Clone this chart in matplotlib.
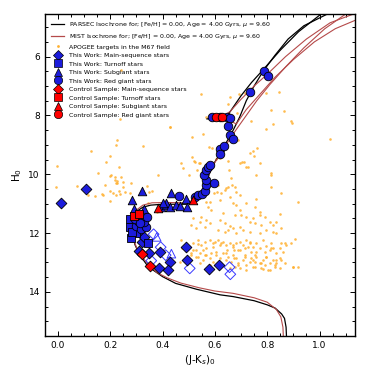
import matplotlib
matplotlib.use("Agg")
import matplotlib.pyplot as plt
from matplotlib.lines import Line2D
from matplotlib.ticker import MultipleLocator

# ---------------- Isochrones ----------------
parsec_x = [0.874, 0.872, 0.866, 0.855, 0.83, 0.80, 0.75, 0.67, 0.62, 0.53, 0.45, 0.40, 0.345,
            0.313, 0.295, 0.287, 0.283, 0.283, 0.29, 0.303, 0.325, 0.355, 0.40, 0.45, 0.49, 0.515,
            0.54, 0.558, 0.568, 0.578, 0.595, 0.62, 0.645, 0.67, 0.695, 0.72, 0.75, 0.784, 0.83,
            0.88, 0.94, 1.03]
parsec_y = [15.6, 15.2, 14.9, 14.75, 14.55, 14.44, 14.3, 14.16, 14.1, 13.91, 13.71, 13.48, 13.14,
            12.74, 12.4, 12.12, 11.9, 11.65, 11.42, 11.25, 11.12, 11.05, 11.02, 11.02, 11.02, 10.93,
            10.75, 10.52, 10.28, 10.0, 9.65, 9.3, 8.9, 8.5, 8.05, 7.5, 7.0, 6.5, 5.95,
            5.4, 4.95, 4.55]
parsec_agb_x = [0.57, 0.60, 0.644, 0.67, 0.70, 0.74, 0.784, 0.85, 0.92, 1.006]
parsec_agb_y = [8.12, 8.07, 8.06, 7.72, 7.33, 6.88, 6.45, 5.78, 5.15, 4.55]

mist_x = [0.862, 0.860, 0.852, 0.835, 0.80, 0.75, 0.67, 0.60, 0.54, 0.47, 0.42, 0.38, 0.35,
          0.325, 0.305, 0.293, 0.285, 0.283, 0.287, 0.30, 0.325, 0.36, 0.42, 0.48, 0.515, 0.54,
          0.555, 0.568, 0.58, 0.60, 0.625, 0.65, 0.68, 0.72, 0.76, 0.81, 0.87, 0.94, 1.02, 1.10]
mist_y = [15.6, 15.2, 14.85, 14.6, 14.35, 14.2, 14.05, 13.97, 13.86, 13.7, 13.53, 13.35, 13.1,
          12.85, 12.6, 12.3, 12.0, 11.7, 11.45, 11.22, 11.05, 10.97, 10.96, 10.97, 10.9, 10.72,
          10.5, 10.2, 9.95, 9.6, 9.25, 8.9, 8.5, 8.0, 7.5, 6.95, 6.35, 5.7, 5.05, 4.55]
mist_agb_x = [0.60, 0.63, 0.66, 0.70, 0.75, 0.80, 0.87, 0.95, 1.04, 1.13]
mist_agb_y = [8.10, 8.05, 7.85, 7.45, 7.0, 6.6, 6.0, 5.4, 4.85, 4.55]
mist_agb2_x = [0.63, 0.682, 0.72, 0.77, 0.83, 0.90, 0.98, 1.06, 1.14]
mist_agb2_y = [8.06, 8.29, 7.8, 7.3, 6.7, 6.1, 5.5, 5.05, 4.75]

# ---------------- APOGEE field targets ----------------
apogee_x = [0.523, 0.542, 0.650, 0.705, 0.771, 0.726, 0.501, 0.383, 0.663, 0.667, 0.650, 0.758,
            0.815, 0.637, 0.625, 0.608, 0.595, 0.583, 0.567, 0.574, 0.586, 0.618, 0.612, 0.641,
            0.676, 0.682, 0.695, 0.656, 0.669, 0.720, 0.758, 0.815, 0.854, 0.917, 0.679, 0.695,
            0.752, 0.771, 0.631, 0.676, 0.701, 0.720, 0.745, 0.771, 0.790, 0.847, 0.548, 0.542,
            0.517, 0.567, 0.580, 0.561, 0.510, 0.529, 0.618, 0.637, 0.656, 0.669, 0.695, 0.733,
            0.752, 0.777, 0.809, 0.822, 0.835, 0.854, 0.612, 0.637, 0.650, 0.682, 0.707, 0.733,
            0.771, 0.796, 0.822, 0.835,
            0.472, 0.517, 0.536, 0.548, 0.561, 0.567, 0.580, 0.593, 0.599, 0.612, 0.618, 0.631,
            0.644, 0.646, 0.656, 0.669, 0.682, 0.688, 0.695, 0.707, 0.714, 0.720, 0.733, 0.739,
            0.745, 0.752, 0.758, 0.771, 0.784, 0.790, 0.796, 0.809, 0.815, 0.822, 0.835, 0.847,
            0.854, 0.860, 0.873, 0.892, 0.905, 0.529, 0.536, 0.542, 0.555, 0.561, 0.580, 0.586,
            0.593, 0.606, 0.618, 0.625, 0.631, 0.644, 0.650, 0.663, 0.669, 0.676, 0.682, 0.688,
            0.695, 0.707, 0.714, 0.720, 0.733, 0.739, 0.745, 0.752, 0.758, 0.771, 0.777, 0.784,
            0.790, 0.796, 0.803, 0.809, 0.822, 0.828, 0.835, 0.847, 0.854, 0.866, 0.898, 0.917,
            0.504, 0.510, 0.517,
            -0.003, -0.005, 0.074, 0.125, 0.154, 0.179, 0.186, 0.198, 0.226, 0.224, 0.234, 0.218,
            0.220, 0.225, 0.228, 0.198, 0.211, 0.221, 0.232, 0.249, 0.173, 0.141, 0.116, 0.281,
            0.276, 0.326, 0.340, 0.350, 0.358, 0.427, 0.472, 0.480, 0.514, 0.514, 0.520, 0.530,
            0.539, 0.555, 0.578, 0.590, 0.603, 0.620, 0.654, 0.695, 0.710, 0.720, 0.733, 0.745,
            0.750, 0.761, 0.794, 0.669, 0.690, 0.822, 0.816, 0.893, 1.038,
            0.548, 0.656, 0.692, 0.714, 0.794, 0.844, 0.816, 0.863, 0.892, 0.739, 0.567, 0.684,
            0.650, 0.243, 0.237, 0.430,
            0.205, 0.221, 0.120, 0.167, 0.198, 0.237, 0.256, 0.345, 0.380, 0.200, 0.240, 0.250,
            0.476, 0.536, 0.555, 0.567, 0.593, 0.605, 0.624, 0.644, 0.669, 0.675, 0.695, 0.714,
            0.726, 0.745, 0.758, 0.777, 0.796, 0.815, 0.828, 0.847, 0.866, 0.898, 0.542, 0.580,
            0.618, 0.656, 0.688, 0.720, 0.752, 0.784, 0.809, 0.834, 0.529, 0.510, 0.491, 0.465,
            0.675, 0.733]
apogee_y = [9.57, 9.63, 9.55, 9.57, 9.61, 9.74, 10.02, 10.02, 10.14, 10.36, 10.42, 10.02,
            10.02, 10.53, 10.65, 10.59, 10.65, 10.93, 10.93, 11.10, 11.22, 10.87, 10.36, 10.48,
            10.42, 10.59, 10.70, 10.76, 10.97, 10.97, 10.85, 10.42, 10.65, 10.93, 11.05, 11.22,
            11.10, 11.27, 11.33, 11.39, 11.39, 11.44, 11.50, 11.39, 11.44, 11.35, 11.44, 11.61,
            11.50, 11.56, 11.67, 11.78, 11.73, 11.84, 11.56, 11.67, 11.76, 11.84, 11.78, 11.61,
            11.67, 11.73, 11.61, 11.73, 11.61, 11.84, 11.90, 11.95, 11.90, 12.01, 11.90, 11.95,
            12.01, 11.90, 11.95, 12.01,
            12.24, 12.35, 12.24, 12.41, 12.29, 12.52, 12.24, 12.35, 12.29, 12.24, 12.41, 12.29,
            12.41, 12.58, 12.35, 12.46, 12.35, 12.58, 12.29, 12.41, 12.52, 12.24, 12.35, 12.63,
            12.46, 12.75, 12.35, 12.52, 12.24, 12.63, 12.44, 12.58, 12.35, 12.52, 12.69, 12.52,
            12.35, 12.63, 12.41, 12.35, 12.21, 12.58, 12.80, 12.69, 12.92, 12.75, 12.86, 12.69,
            12.97, 12.75, 12.86, 13.03, 12.69, 12.92, 12.80, 12.97, 12.75, 13.14, 12.86, 13.03,
            13.20, 12.92, 12.80, 13.09, 12.97, 12.86, 13.14, 12.97, 12.80, 13.03, 13.20, 12.92,
            13.09, 12.80, 13.26, 13.03, 12.92, 13.14, 13.03, 13.20, 12.92, 13.03, 13.14, 13.17,
            12.92, 12.75, 12.58,
            9.71, 10.42, 10.40, 9.20, 9.95, 10.36, 9.60, 9.38, 8.83, 9.00, 9.74, 10.19,
            10.10, 10.30, 10.22, 10.56, 10.63, 10.70, 10.58, 10.42, 10.70, 10.74, 10.70, 10.30,
            10.63, 9.04, 10.40, 10.60, 10.56, 8.40, 9.63, 9.78, 8.72, 9.42, 9.55, 9.85,
            9.63, 8.63, 9.06, 9.10, 9.49, 9.45, 9.85, 9.63, 9.58, 9.75, 9.27, 9.20,
            9.37, 9.12, 8.47, 8.61, 8.85, 8.29, 9.97, 8.24, 8.81,
            7.27, 7.38, 7.27, 7.25, 7.25, 7.19, 7.81, 7.86, 8.20, 8.18, 8.04, 7.93,
            7.61, 6.45, 8.13, 8.38,
            10.02, 10.31, 10.53, 10.67, 10.90, 10.67, 10.59, 10.99, 11.30, 10.05, 10.10, 10.25,
            12.52, 12.37, 12.58, 12.75, 12.46, 12.63, 12.35, 12.69, 12.41, 12.86, 12.58, 12.75,
            12.46, 12.92, 12.63, 13.03, 12.80, 12.52, 13.09, 12.86, 12.35, 13.14, 13.03, 13.09,
            12.97, 13.20, 13.09, 13.26, 13.17, 13.23, 13.26, 12.92, 12.80, 12.69, 12.92, 12.97,
            12.58, 12.29]

# ---------------- This Work ----------------
tw_ms_x = [0.014, 0.107, 0.320, 0.310, 0.348, 0.389, 0.430, 0.385, 0.421, 0.491, 0.494, 0.578,
           0.614, 0.310, 0.330]
tw_ms_y = [10.99, 10.51, 12.29, 12.60, 12.68, 12.63, 12.97, 13.20, 13.25, 12.47, 12.91, 13.21,
           13.09, 11.95, 12.12]
tw_to_x = [0.277, 0.275, 0.300, 0.279, 0.345, 0.285]
tw_to_y = [11.53, 11.80, 12.01, 12.18, 12.33, 11.95]
tw_sg_x = [0.285, 0.323, 0.290, 0.328, 0.434, 0.396, 0.412, 0.415, 0.430, 0.453, 0.468, 0.491,
           0.494, 0.402]
tw_sg_y = [10.86, 10.57, 11.19, 11.17, 10.63, 11.10, 11.03, 10.99, 11.10, 11.04, 11.08, 10.85,
           11.11, 10.99]
tw_rg_x = [0.463, 0.523, 0.537, 0.550, 0.561, 0.595, 0.567, 0.565, 0.557, 0.568, 0.575, 0.583,
           0.618, 0.621, 0.634, 0.659, 0.669, 0.650, 0.590, 0.618, 0.646, 0.656, 0.735, 0.786,
           0.803, 0.300, 0.319, 0.338, 0.328, 0.306, 0.341, 0.294, 0.313]
tw_rg_y = [10.74, 10.78, 10.72, 10.66, 10.58, 10.29, 10.36, 10.19, 10.03, 9.86, 9.76, 9.68,
           9.15, 9.31, 9.04, 8.66, 8.81, 8.35, 8.04, 8.04, 8.06, 8.10, 7.19, 6.50,
           6.65, 11.76, 11.87, 11.80, 11.61, 11.58, 11.44, 11.52, 11.67]
open_ms_x = [0.366, 0.393, 0.412, 0.357, 0.504, 0.656, 0.659]
open_ms_y = [12.04, 12.48, 12.75, 12.94, 13.20, 13.16, 13.40]
open_sg_x = [0.378, 0.434]
open_sg_y = [12.13, 12.70]

# ---------------- Control Sample ----------------
cs_ms_x = [0.321, 0.354]
cs_ms_y = [12.71, 13.13]
cs_to_x = [0.291, 0.309]
cs_to_y = [11.43, 11.36]
cs_sg_x = [0.381, 0.516]
cs_sg_y = [11.14, 10.89]
cs_rg_x = [0.603, 0.629]
cs_rg_y = [8.06, 8.04]

labels = ["PARSEC Isochrone for; [Fe/H] = 0.00, Age = 4.00 Gyrs, $\\mu$ = 9.60",
          "MIST Isochrone for; [Fe/H] = 0.00, Age = 4.00 Gyrs, $\\mu$ = 9.60",
          "APOGEE targets in the M67 field",
          "This Work: Main-sequence stars", "This Work: Turnoff stars",
          "This Work: Subgiant stars", "This Work: Red giant stars",
          "Control Sample: Main-sequence stars", "Control Sample: Turnoff stars",
          "Control Sample: Subgiant stars", "Control Sample: Red giant stars"]

BLUE = "#1c1cdc"
RED = "#ff0000"
MIST_C = "#b54a4a"
ORANGE = "#ffb030"

fig = plt.figure(figsize=(3.74, 3.74), dpi=100)
ax = fig.add_axes([0.1195, 0.1016, 0.8295, 0.861])

ax.scatter(apogee_x, apogee_y, s=3.5, color=ORANGE, alpha=0.85, lw=0, zorder=1)

ax.plot(parsec_x, parsec_y, color="black", lw=0.9, zorder=2)
ax.plot(parsec_agb_x, parsec_agb_y, color="black", lw=0.9, zorder=2)
ax.plot(mist_x, mist_y, color=MIST_C, lw=0.8, zorder=2)
ax.plot(mist_agb_x, mist_agb_y, color=MIST_C, lw=0.8, zorder=2)
ax.plot(mist_agb2_x, mist_agb2_y, color=MIST_C, lw=0.8, zorder=2)

sd = 30   # diamond size
so = 38   # other marker size
ek = dict(edgecolors="black", linewidths=0.6, zorder=4)
ax.scatter(open_ms_x, open_ms_y, s=sd, marker="D", facecolors="none", edgecolors="#3a3aff",
           linewidths=0.7, zorder=3)
ax.scatter(open_sg_x, open_sg_y, s=so, marker="^", facecolors="none", edgecolors="#3a3aff",
           linewidths=0.7, zorder=3)
ax.scatter(tw_ms_x, tw_ms_y, s=sd, marker="D", color=BLUE, **ek)
ax.scatter(tw_to_x, tw_to_y, s=so, marker="s", color=BLUE, **ek)
ax.scatter(tw_sg_x, tw_sg_y, s=so, marker="^", color=BLUE, **ek)
ax.scatter(tw_rg_x, tw_rg_y, s=so, marker="o", color=BLUE, **ek)
ck = dict(edgecolors="black", linewidths=0.6, zorder=5)
ax.scatter(cs_ms_x, cs_ms_y, s=sd, marker="D", color=RED, **ck)
ax.scatter(cs_to_x, cs_to_y, s=so, marker="s", color=RED, **ck)
ax.scatter(cs_sg_x, cs_sg_y, s=so, marker="^", color=RED, **ck)
ax.scatter(cs_rg_x, cs_rg_y, s=so, marker="o", color=RED, **ck)

ax.set_xlim(-0.05, 1.135)
ax.set_ylim(15.5, 4.55)
ax.xaxis.set_major_locator(MultipleLocator(0.2))
ax.xaxis.set_minor_locator(MultipleLocator(0.05))
ax.yaxis.set_major_locator(MultipleLocator(2))
ax.yaxis.set_minor_locator(MultipleLocator(0.5))
ax.tick_params(which="both", direction="in", top=True, right=True, labelsize=6.5, width=0.7)
ax.tick_params(which="major", length=3.5)
ax.tick_params(which="minor", length=2)
for sp in ax.spines.values():
    sp.set_linewidth(1.0)
ax.set_xlabel("(J-K$_s$)$_0$", fontsize=7.5, labelpad=2)
ax.set_ylabel("H$_0$", fontsize=7.5, labelpad=3)

mk = dict(linestyle="none", markeredgecolor="black", markeredgewidth=0.5)
handles = [
    Line2D([], [], color="black", lw=0.9),
    Line2D([], [], color=MIST_C, lw=0.9),
    Line2D([], [], linestyle="none", marker="o", markersize=2, color=ORANGE, markeredgewidth=0),
    Line2D([], [], marker="D", markersize=5.5, color=BLUE, **mk),
    Line2D([], [], marker="s", markersize=6, color=BLUE, **mk),
    Line2D([], [], marker="^", markersize=6, color=BLUE, **mk),
    Line2D([], [], marker="o", markersize=6, color=BLUE, **mk),
    Line2D([], [], marker="D", markersize=5.5, color=RED, **mk),
    Line2D([], [], marker="s", markersize=6, color=RED, **mk),
    Line2D([], [], marker="^", markersize=6, color=RED, **mk),
    Line2D([], [], marker="o", markersize=6, color=RED, **mk),
]
ax.legend(handles, labels, loc="upper left", frameon=False, fontsize=4.5,
          handlelength=2.2, handletextpad=0.8, labelspacing=0.5,
          borderaxespad=0.3, borderpad=0.65)

fig.savefig("out.png", dpi=100)
